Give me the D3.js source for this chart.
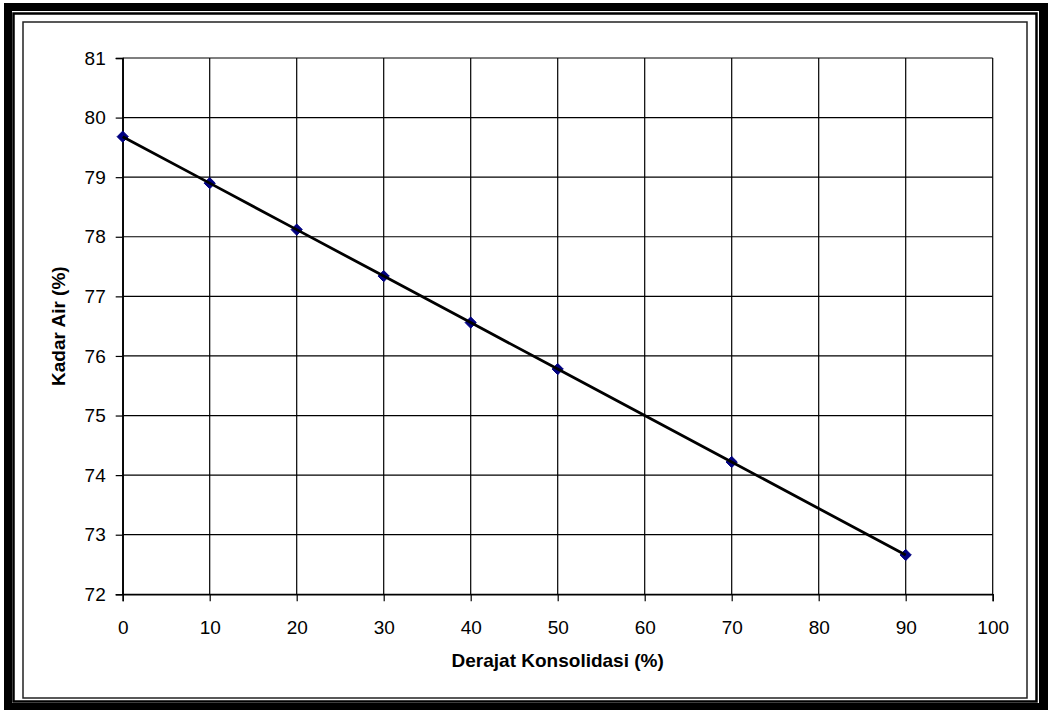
<!DOCTYPE html>
<html>
<head>
<meta charset="utf-8">
<script src="https://cdn.jsdelivr.net/npm/d3@7"></script>
<style>
  html, body { margin: 0; padding: 0; background: #fff; }
  svg { display: block; font-family: "Liberation Sans", Arial, sans-serif; }
</style>
</head>
<body>
<svg id="chart" width="1048" height="710"></svg>
<script>
// ---- data ----
const xValues = [0, 10, 20, 30, 40, 50, 70, 90];
const yValues = [79.68, 78.90, 78.12, 77.34, 76.56, 75.78, 74.22, 72.66];
const xTicks = [0, 10, 20, 30, 40, 50, 60, 70, 80, 90, 100];
const yTicks = [72, 73, 74, 75, 76, 77, 78, 79, 80, 81];
const xTitle = "Derajat Konsolidasi (%)";
const yTitle = "Kadar Air (%)";

(function () {
const svg = d3.select("#chart");
const W = 1048, H = 710;

// ---- frame (border + shadow) ----
svg.append("rect").attr("x", 4).attr("y", 3).attr("width", W - 4).attr("height", H - 3).attr("fill", "#000");
svg.append("rect").attr("x", 12).attr("y", 11).attr("width", 1027).attr("height", 692).attr("fill", "#fff");
svg.append("rect").attr("x", 13.5).attr("y", 13.5).attr("width", 1023).attr("height", 688)
  .attr("fill", "none").attr("stroke", "#000").attr("stroke-width", 2.5);
svg.append("rect").attr("x", 23).attr("y", 22).attr("width", 1004).attr("height", 676)
  .attr("fill", "none").attr("stroke", "#222").attr("stroke-width", 1.5);

// ---- plot ----
const pl = 122.7, pr = 992.7, pt = 58, pb = 594.3;
const x = d3.scaleLinear().domain([0, 100]).range([pl, pr]);
const y = d3.scaleLinear().domain([72, 81]).range([pb, pt]);

// gridlines
svg.append("g").selectAll("line").data(xTicks).join("line")
  .attr("x1", d => x(d)).attr("x2", d => x(d)).attr("y1", pt).attr("y2", pb)
  .attr("stroke", "#000").attr("stroke-width", 1.2);
svg.append("g").selectAll("line").data(yTicks).join("line")
  .attr("x1", pl).attr("x2", pr).attr("y1", d => y(d)).attr("y2", d => y(d))
  .attr("stroke", "#000").attr("stroke-width", 1.2);

// axes
const xAxis = svg.append("g").attr("transform", `translate(0,${pb})`)
  .call(d3.axisBottom(x).tickValues(xTicks).tickSize(7).tickPadding(19).tickFormat(d3.format("d")));
const yAxis = svg.append("g").attr("transform", `translate(${pl},0)`)
  .call(d3.axisLeft(y).tickValues(yTicks).tickSize(7).tickPadding(10).tickFormat(d3.format("d")));
[xAxis, yAxis].forEach(g => {
  g.select(".domain").attr("stroke", "#000").attr("stroke-width", 1.5);
  g.selectAll(".tick line").attr("stroke", "#000").attr("stroke-width", 1.2);
  g.selectAll(".tick text").attr("fill", "#000").attr("font-size", 19)
    .attr("font-family", "'Liberation Sans', Arial, sans-serif");
});
xAxis.selectAll(".tick text").attr("dy", "0.71em");

// markers
svg.append("g").selectAll("path").data(xValues).join("path")
  .attr("d", d3.symbol().type(d3.symbolDiamond2).size(80))
  .attr("transform", (d, i) => `translate(${x(d)},${y(yValues[i])})`)
  .attr("fill", "#000080").attr("stroke", "#000080").attr("stroke-width", 1);

// line
const line = d3.line().x(d => x(d[0])).y(d => y(d[1]));
svg.append("path").datum(xValues.map((d, i) => [d, yValues[i]]))
  .attr("d", line).attr("fill", "none").attr("stroke", "#000").attr("stroke-width", 2.8);

// titles
svg.append("text").attr("x", (pl + pr) / 2).attr("y", 667)
  .attr("text-anchor", "middle").attr("font-size", 19).attr("font-weight", "bold")
  .text(xTitle);
svg.append("text").attr("transform", `translate(65,${(pt + pb) / 2}) rotate(-90)`)
  .attr("text-anchor", "middle").attr("font-size", 19).attr("font-weight", "bold")
  .text(yTitle);
})();
</script>
</body>
</html>
